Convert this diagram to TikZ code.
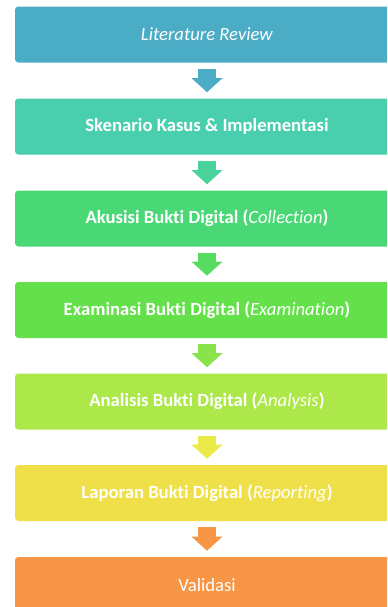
\documentclass[tikz,border=0pt]{standalone}
\usepackage{fontspec}
\setmainfont{Carlito}[Ligatures=CommonOff]
\usepackage{tikz}
\usetikzlibrary{arrows.meta}

\definecolor{stepA}{HTML}{4BACC6}
\definecolor{stepB}{HTML}{4ACFAE}
\definecolor{stepC}{HTML}{4AD876}
\definecolor{stepD}{HTML}{63E04A}
\definecolor{stepE}{HTML}{ADE84A}
\definecolor{stepF}{HTML}{EFE04A}
\definecolor{stepG}{HTML}{F79646}
\definecolor{stepEF}{HTML}{EBEA48}

\tikzset{
  stage/.style={rectangle, rounded corners=2.5pt, minimum width=288pt,
    minimum height=42pt, text=white, font=\fontsize{14}{16}\selectfont},
  flow/.style={line width=13.5pt, shorten <=4.5pt, shorten >=4.5pt,
    -{Triangle[width=22.5pt,length=10.5pt]}}
}

\begin{document}
\begin{tikzpicture}[x=0.75pt,y=-0.75pt]
    \useasboundingbox (0,0) rectangle (387,607);
    \clip (0,0) rectangle (387,607);
    % the seven stages, top to bottom
    \node[stage,fill=stepA] (lit) at (207,34.5) {\textit{Literature Review}};
    \node[stage,fill=stepB] (case) at (207,126.5) {\textbf{Skenario Kasus \& Implementasi}};
    \node[stage,fill=stepC] (coll) at (207,218.5) {\textbf{Akusisi Bukti Digital (}\textit{Collection}\textbf{)}};
    \node[stage,fill=stepD] (exam) at (207,310) {\textbf{Examinasi Bukti Digital (}\textit{Examination}\textbf{)}};
    \node[stage,fill=stepE] (anal) at (207,401.5) {\textbf{Analisis Bukti Digital (}\textit{Analysis}\textbf{)}};
    \node[stage,fill=stepF] (rep) at (207,493) {\textbf{Laporan Bukti Digital (}\textit{Reporting}\textbf{)}};
    \node[stage,fill=stepG] (val) at (207,585) {Validasi};
    % block arrows between them
    \draw[flow,stepA] (lit) -- (case);
    \draw[flow,stepB!70!stepC] (case) -- (coll);
    \draw[flow,stepC!50!stepD] (coll) -- (exam);
    \draw[flow,stepD!50!stepE] (exam) -- (anal);
    \draw[flow,stepEF] (anal) -- (rep);
    \draw[flow,stepG] (rep) -- (val);
\end{tikzpicture}
\end{document}
